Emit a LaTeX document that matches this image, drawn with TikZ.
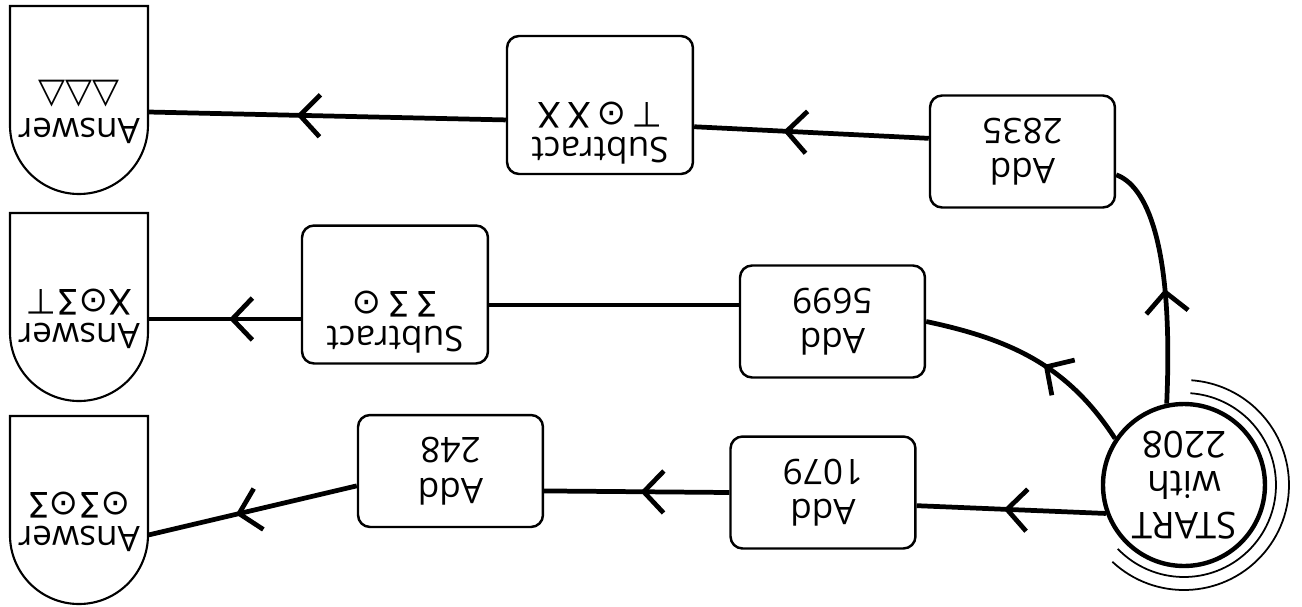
\documentclass[tikz,border=0pt]{standalone}
\usepackage{fontspec}
\setmainfont{Open Sans}
\newfontfamily\glyphfont{DejaVu Sans}
\usepackage{graphicx}
\usetikzlibrary{arrows.meta,positioning,calc,decorations.markings}

\newcommand{\scrl}{\reflectbox{Σ}}
\newcommand{\glyphs}[1]{{\glyphfont\fontsize{20}{20}\selectfont #1}}

\tikzset{
  %% operation boxes
  opbox/.style={draw, line width=1.4pt, rounded corners=0.24cm,
    minimum width=3.7cm, minimum height=2.24cm, inner sep=0pt,
    align=center, font=\fontsize{20}{23}\selectfont},
  subbox/.style={opbox, minimum width=3.72cm, minimum height=2.76cm,
    font=\fontsize{20}{20}\selectfont},
  %% answer shields
  answer/.style={minimum width=2.76cm, inner sep=0pt, align=center,
    font=\fontsize{20}{19}\selectfont},
  shield/.style={line width=1.2pt},
  %% start disc and its rings
  startdisc/.style={circle, draw, line width=2.5pt, minimum size=3.24cm,
    inner sep=0pt, align=center, font=\fontsize{21}{23}\selectfont},
  ring/.style={line width=1pt},
  %% connectors
  flow/.style={line width=2.7pt},
  flowmark/.style={flow, decoration={markings,
    mark=at position #1 with {\arrow{Straight Barb[length=0.4cm,width=0.84cm]}}},
    postaction={decorate}},
}

\begin{document}
\begin{tikzpicture}[x=0.02cm, y=0.02cm, rotate=180, transform shape]
\useasboundingbox (0,0) rectangle (1302,606);

\node[startdisc] (start) at (118,485) {START\\with\\2208};

\node[opbox] (add2835) at (279.5,151.5) {Add\\2835};
\node[opbox] (add5699) at (469.5,321.5) {Add\\5699};
\node[opbox] (add1079) at (479,492.5) {Add\\1079};
\node[opbox] (add248) at (851.5,471) {Add\\248};
\node[subbox] (sub1) at (702,105) {Subtract\\\glyphs{⊤\,⊙\,X\,X}\\[12pt]~};
\node[subbox] (sub2) at (907,294.5) {Subtract\\\glyphs{\scrl\,\scrl\,⊙}\\[12pt]~};

\node[answer] (ans1) at (1223,112) {Answer\\\glyphs{△△△}};
\node[answer] (ans2) at (1223,319) {Answer\\\glyphs{X⊙\scrl⊤}};
\node[answer] (ans3) at (1223,522) {Answer\\\glyphs{⊙\scrl⊙\scrl}};

%% shield outlines round the answers
\foreach \a in {ans1,ans2,ans3}
  \draw[shield] ($(\a.center)+(-69,-106)$) -- ++(0,119)
    arc[start angle=180, end angle=0, radius=69] -- ++(0,-119) -- cycle;

%% rings round the start
\draw[ring] ($(start.center)+(47:105)$) arc[start angle=47, end angle=266, radius=105];
\draw[ring] ($(start.center)+(44:92)$) arc[start angle=44, end angle=266, radius=92];

%% top path
\draw[flowmark=0.47] (start.282) .. controls (128,240) and (157,185) .. (add2835.166);
\draw[flowmark=0.62] (add2835.352) -- (sub1.167);
\draw[flowmark=0.585] (sub1.9) -- (ans1.west);

%% middle path
\draw[flowmark=0.45] (start.326) to[out=-57, in=168] (add5699.west);
\draw[flow] (add5699.350) -- (add5699.350 -| sub2.west);
\draw[flowmark=0.47] (sub2.east |- ans2.west) -- (ans2.west);

%% bottom path
\draw[flowmark=0.54] (start.20) -- (add1079.172);
\draw[flowmark=0.48] (add1079.east) -- (add248.168);
\draw[flowmark=0.58] (add248.9) -- ($(ans3.west)+(0,13)$);
\end{tikzpicture}
\end{document}
